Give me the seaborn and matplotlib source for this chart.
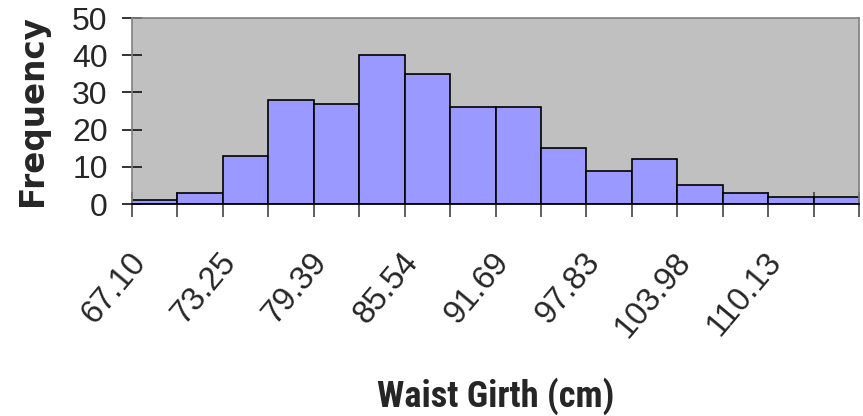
import numpy as np
import pandas as pd
import matplotlib
matplotlib.use("Agg")
import matplotlib.pyplot as plt
from matplotlib import font_manager as fm
from matplotlib.transforms import ScaledTranslation
import seaborn as sns

# ---- data ----
bin_edges = [67.10, 70.175, 73.25, 76.32, 79.39, 82.465, 85.54, 88.615, 91.69,
             94.76, 97.83, 100.905, 103.98, 107.055, 110.13, 113.2, 116.27]
frequencies = [1, 3, 13, 28, 27, 40, 35, 26, 26, 15, 9, 12, 5, 3, 2, 2]
tick_labels = ["67.10", "73.25", "79.39", "85.54", "91.69", "97.83", "103.98", "110.13"]
y_ticks = [0, 10, 20, 30, 40, 50]

edges = np.array(bin_edges)
centers = (edges[:-1] + edges[1:]) / 2
df = pd.DataFrame({"waist": centers, "freq": frequencies})

# pick a narrow bold font for the x-axis title
cands = ["Liberation Sans Narrow", "Arial Narrow", "Roboto Condensed", "PT Sans Narrow",
         "Archivo Narrow", "Sofia Sans Condensed", "Asap Condensed", "Open Sans Condensed"]
avail = {}
for f in fm.fontManager.ttflist:
    avail.setdefault(f.name, set()).add(f.weight)
narrow = None
for c in cands:
    if c in avail and any(w in (700, "bold") for w in avail[c]):
        narrow = c
        break
if narrow is None:
    for c in cands:
        if c in avail:
            narrow = c
            break
if narrow is None:
    narrow = "Liberation Sans"

sns.set_style("ticks")
fig = plt.figure(figsize=(8.63, 4.16), dpi=100)
ax = fig.add_axes([132/863, 1 - 204/416, (859-132)/863, (204-18)/416])
ax.set_facecolor("#C0C0C0")

sns.histplot(data=df, x="waist", weights="freq", bins=list(bin_edges), ax=ax,
             color="#9999FF", edgecolor="black", linewidth=1.2, alpha=1.0)

ax.set_xlim(edges[0], edges[-1])
ax.set_ylim(0, 50)

# ticks
ax.set_yticks(y_ticks)
ax.set_yticklabels([str(v) for v in y_ticks], fontsize=23, family="Liberation Sans")
ax.set_xticks(edges)
xl = []
for i in range(len(edges)):
    xl.append(tick_labels[i // 2] if (i % 2 == 0 and i // 2 < len(tick_labels)) else "")
ax.set_xticklabels(xl, fontsize=23.5, family="Liberation Sans", rotation=50,
                   ha="right", va="top", rotation_mode="anchor")
ax.tick_params(axis="y", left=True, direction="inout", length=15, width=1.2,
               color="#111111", pad=10)
ax.tick_params(axis="x", bottom=True, direction="inout", length=18, width=1.2,
               color="#444444", pad=22)
shift = ScaledTranslation(-4/100, 0, fig.dpi_scale_trans)
for lab in ax.get_xticklabels():
    lab.set_transform(lab.get_transform() + shift)

for s in ["left", "top", "right"]:
    ax.spines[s].set_visible(True)
    ax.spines[s].set_color("#808080")
    ax.spines[s].set_linewidth(1.2)
ax.spines["bottom"].set_color("black")
ax.spines["bottom"].set_linewidth(1.3)

ax.set_ylabel("Frequency", fontsize=23.5, fontweight="bold", family="DejaVu Sans")
ax.yaxis.set_label_coords(-0.114, 0.5)
ax.set_xlabel("Waist Girth (cm)", fontsize=26.5, fontweight="bold", family=narrow)
ax.xaxis.set_label_coords(0.5, (204 - 407) / 186)
ax.xaxis.label.set_va("baseline")

# fit the title width to the reference (~237 px)
fig.canvas.draw()
r = fig.canvas.get_renderer()
w = ax.xaxis.label.get_window_extent(r).width
if w > 0:
    ax.xaxis.label.set_fontsize(26.5 * 237 / w)

fig.savefig("out.png", dpi=100)
